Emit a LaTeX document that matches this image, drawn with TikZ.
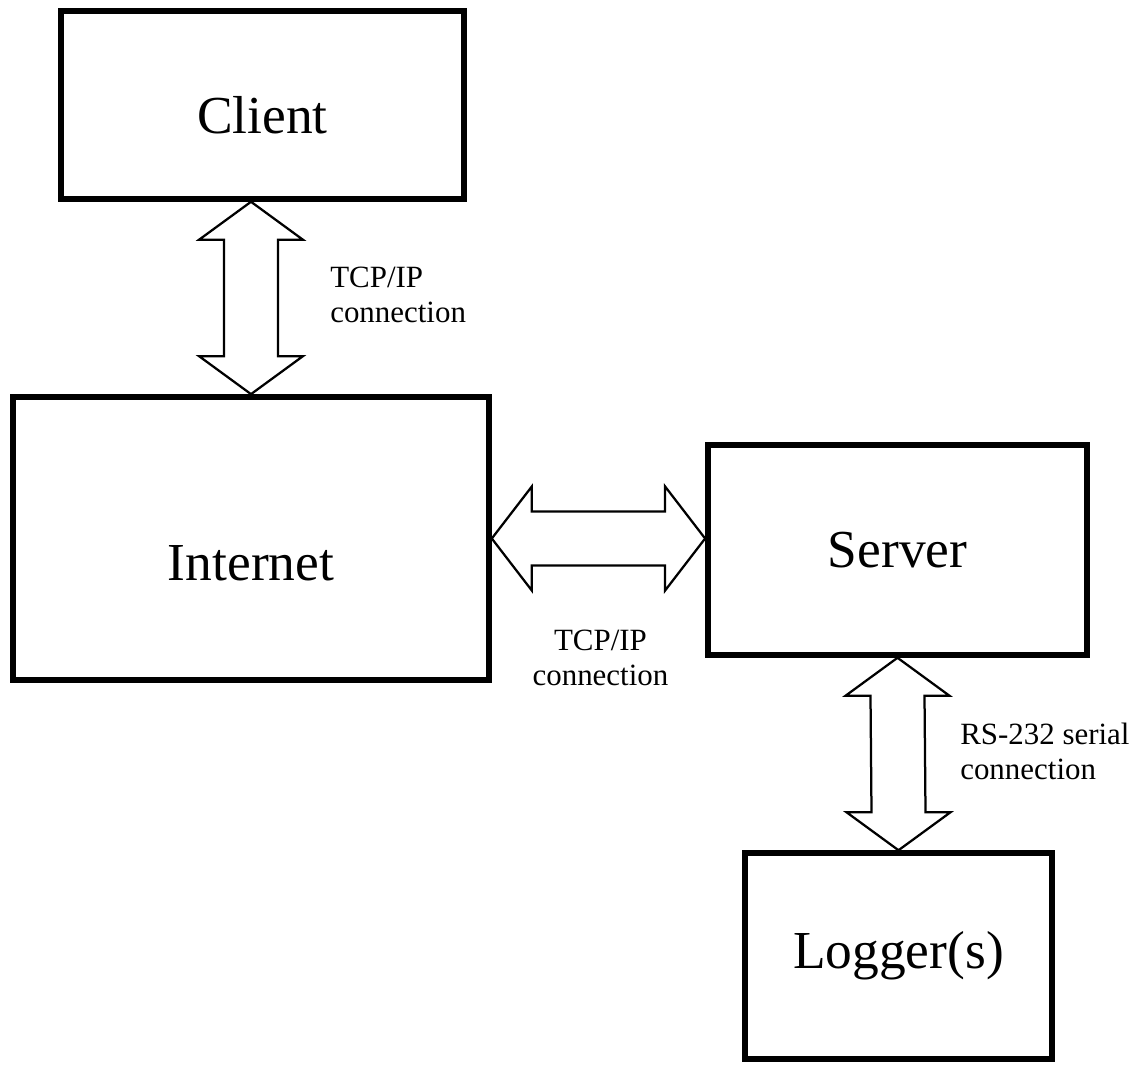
\documentclass[tikz,border=0pt]{standalone}
\usepackage{fontspec}
\setmainfont{Liberation Serif}
\usepackage{tikz}
\usetikzlibrary{calc,positioning}

% hollow double block arrows, tip to tip
\newcommand{\vblock}[2]{%
  \draw[blockarrow] (#1) -- ++(52,38) -- ++(-25,0) -- ($(#2)+(27,-38)$) -- ++(25,0) -- (#2)
    -- ++(-52,-38) -- ++(25,0) -- ($(#1)+(-27,38)$) -- ++(-25,0) -- cycle;}
\newcommand{\hblock}[2]{%
  \draw[blockarrow] (#1) -- ++(40,-52) -- ++(0,25) -- ($(#2)+(-40,-27)$) -- ++(0,-25) -- (#2)
    -- ++(-40,52) -- ++(0,-25) -- ($(#1)+(40,27)$) -- ++(0,25) -- cycle;}

\begin{document}
\begin{tikzpicture}[
        x=0.025cm, y=-0.025cm,
        box/.style={draw, line width=3.9pt, align=center, font=\fontsize{38}{44}\selectfont},
        lbl/.style={inner sep=0pt, font=\fontsize{22}{25}\selectfont},
        blockarrow/.style={draw, line width=1.6pt, line join=miter}
    ]
        \useasboundingbox (0,0) rectangle (1143,1065);

        % Boxes
        \node[box, minimum width=10.08cm, minimum height=4.7cm, text height=1.4cm, text depth=0pt] (client) at (262.5,105) {Client};
        \node[box, minimum width=11.9cm, minimum height=7.08cm, text height=2.08cm, text depth=0pt] (internet) at (251,538.5) {Internet};
        \node[box, minimum width=9.48cm, minimum height=5.25cm] (server) at (897.5,550) {Server};
        \node[box, minimum width=7.68cm, minimum height=5.15cm] (logger) at (898.5,956) {Logger(s)};

        % Connections
        \vblock{client.south -| internet.north}{internet.north}
        \hblock{internet.east}{server.west |- internet.east}
        \vblock{server.south}{logger.north}

        % Labels
        \node[lbl, anchor=west, align=left] (tcpup) at ($(internet.north)!0.5!(client.south -| internet.north)+(79,-3)$) {TCP/IP\\connection};
        \node[lbl, anchor=north, align=center] (tcpmid) at ($(internet.east)!0.5!(server.west |- internet.east)+(2,91)$) {TCP/IP\\connection};
        \node[lbl, anchor=west, align=left] (serial) at ($(server.south)!0.5!(logger.north)+(62,-3)$) {RS-232 serial\\connection};
    \end{tikzpicture}
\end{document}
